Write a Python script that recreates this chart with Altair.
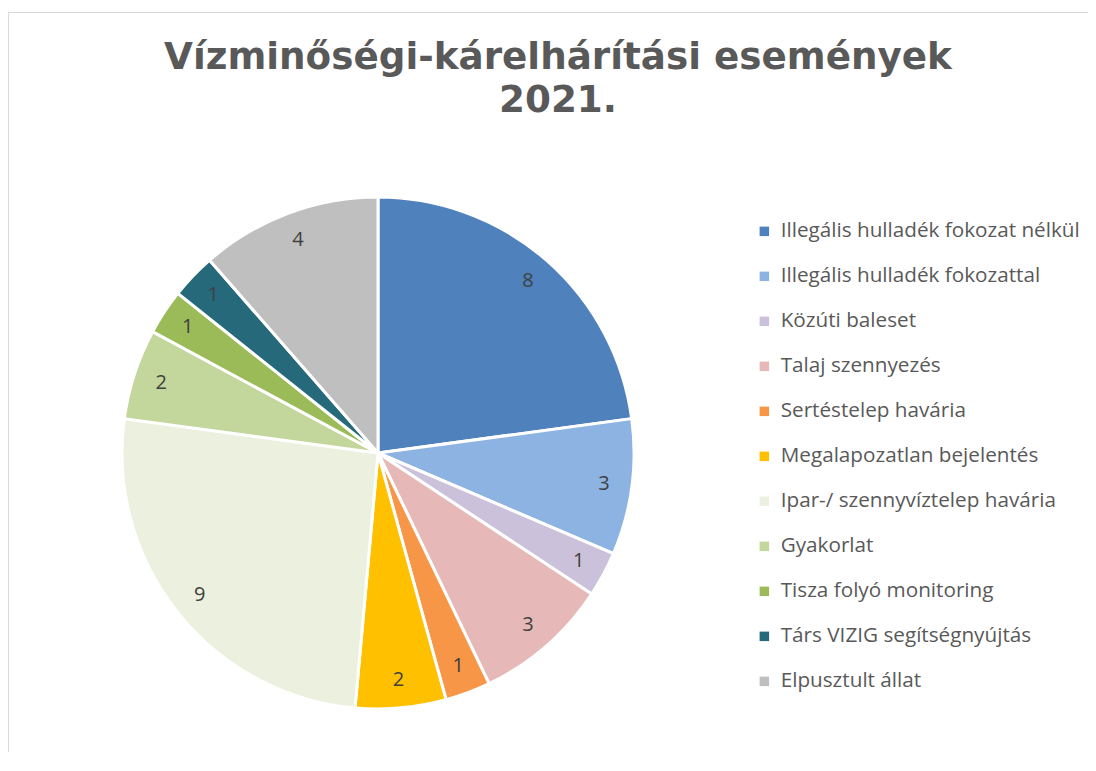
import altair as alt
import pandas as pd

categories = [
    "Illegális hulladék fokozat nélkül",
    "Illegális hulladék fokozattal",
    "Közúti baleset",
    "Talaj szennyezés",
    "Sertéstelep havária",
    "Megalapozatlan bejelentés",
    "Ipar-/ szennyvíztelep havária",
    "Gyakorlat",
    "Tisza folyó monitoring",
    "Társ VIZIG segítségnyújtás",
    "Elpusztult állat",
]
values = [8, 3, 1, 3, 1, 2, 9, 2, 1, 1, 4]
colors = ["#4F81BD", "#8DB3E2", "#CCC1DA", "#E6B9B8", "#F79646", "#FFC000",
          "#EBF1DE", "#C3D69B", "#9BBB59", "#25697B", "#BFBFBF"]
title_lines = ["Vízminőségi-kárelhárítási események", "2021."]

df = pd.DataFrame({"cat": categories, "value": values, "idx": list(range(len(values)))})
tdf = pd.DataFrame({"t": [title_lines]})

cx, cy, R = 370, 441, 256

base = alt.Chart(df).encode(
    theta=alt.Theta("value:Q", stack=True),
    order=alt.Order("idx:Q"),
)

arcs = base.mark_arc(outerRadius=R, stroke="white", strokeWidth=3).encode(
    color=alt.Color(
        "cat:N",
        scale=alt.Scale(domain=categories, range=colors),
        sort=categories,
        legend=alt.Legend(
            title=None, orient="none", legendX=746, legendY=209,
            symbolType="square", symbolSize=90, symbolStrokeWidth=0,
            labelFont="Open Sans", labelFontSize=20.7, labelColor="#595959",
            rowPadding=23, labelOffset=6, labelLimit=400,
        ),
    ),
    x=alt.value(cx), y=alt.value(cy),
)

labels = base.mark_text(radius=228, font="Open Sans", fontSize=20, color="#404040").encode(
    text="value:Q", x=alt.value(cx), y=alt.value(cy),
)

title = alt.Chart(tdf).mark_text(
    font="DejaVu Sans", fontWeight="bold", fontSize=37.3, color="#595959",
    align="center", baseline="middle", lineHeight=43,
).encode(text="t", x=alt.value(550), y=alt.value(46))

border_left = alt.Chart(tdf).mark_rule(color="#D9D9D9", strokeWidth=1).encode(
    x=alt.value(0.5), y=alt.value(0), y2=alt.value(740))
border_top = alt.Chart(tdf).mark_rule(color="#D9D9D9", strokeWidth=1).encode(
    x=alt.value(0), x2=alt.value(1080), y=alt.value(0.5))

chart = alt.layer(border_left, border_top, arcs, labels, title).properties(
    width=1080, height=740, autosize=alt.AutoSizeParams(type="none"),
    padding={"left": 0, "top": 4, "right": 0, "bottom": 0},
).configure_view(stroke=None)

chart.save("out.html", embed_options={"renderer": "svg", "actions": False})
